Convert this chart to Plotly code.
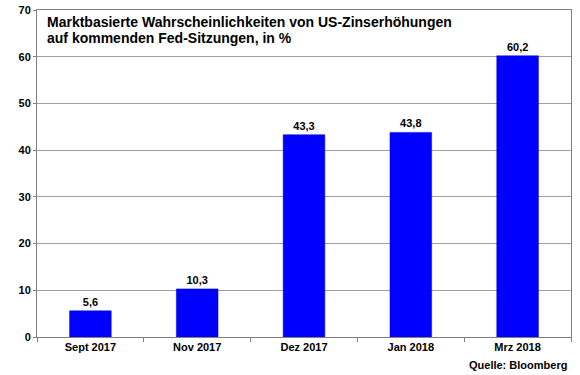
import plotly.graph_objects as go

categories = ["Sept 2017", "Nov 2017", "Dez 2017", "Jan 2018", "Mrz 2018"]
values = [5.6, 10.3, 43.3, 43.8, 60.2]
y_ticks = [0, 10, 20, 30, 40, 50, 60, 70]
title_lines = ["Marktbasierte Wahrscheinlichkeiten von US-Zinserhöhungen",
               "auf kommenden Fed-Sitzungen, in %"]
source = "Quelle: Bloomberg"

FONT = "Liberation Sans, Arial, sans-serif"

fig = go.Figure()
fig.add_trace(go.Bar(
    x=categories, y=values,
    marker=dict(color="#0000FF", line=dict(color="#0000CC", width=0.5)),
    width=0.39,
    texttemplate="%{y:.1f}", textposition="outside",
    textfont=dict(family=FONT, size=11, color="black", weight="bold"),
    cliponaxis=False,
))

annotations = []
for i, line in enumerate(title_lines):
    annotations.append(dict(
        text=line, xref="paper", yref="paper", x=0.015, y=0.963 - i * 0.049,
        xanchor="left", yanchor="middle", align="left", showarrow=False,
        font=dict(family=FONT, size=14, color="black", weight="bold")))
annotations.append(dict(
    text=source, xref="paper", yref="paper", x=0.996, y=-0.086,
    xanchor="right", yanchor="middle", showarrow=False,
    font=dict(family=FONT, size=11, color="black", weight="bold")))

fig.update_layout(
    width=580, height=375,
    margin=dict(l=37, r=9, t=10, b=38, autoexpand=False),
    paper_bgcolor="white", plot_bgcolor="white",
    separators=",.",
    showlegend=False,
    font=dict(family=FONT, color="black"),
    xaxis=dict(
        type="category", tickson="boundaries", ticks="outside", ticklen=4,
        tickcolor="#808080", showline=True, linecolor="#808080", linewidth=1,
        mirror=True, showgrid=False, automargin=False,
        tickfont=dict(family=FONT, size=11, color="black", weight="bold"),
    ),
    yaxis=dict(
        range=[0, 70], tickvals=y_ticks, ticks="outside", ticklen=3,
        tickcolor="#808080", showline=True, linecolor="#808080", linewidth=1,
        mirror=True, showgrid=True, gridcolor="#a0a0a0", gridwidth=1,
        zeroline=False, ticklabeloverflow="allow", automargin=False,
        tickfont=dict(family=FONT, size=11, color="black", weight="bold"),
    ),
    annotations=annotations,
)

fig.write_html("out.html", config={"displayModeBar": False},
               post_script="document.body.style.margin='0';document.body.style.overflow='hidden';")
